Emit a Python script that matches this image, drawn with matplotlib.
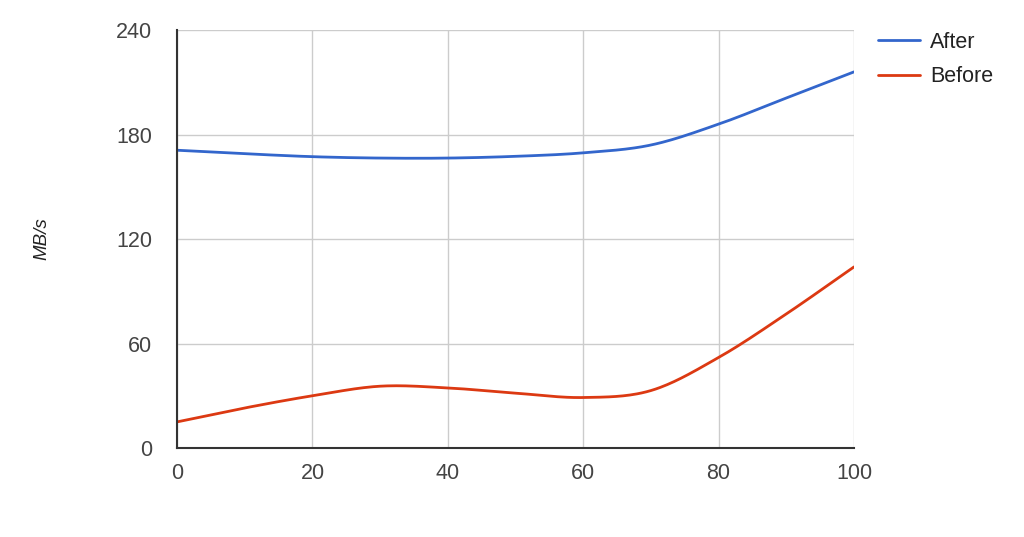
import numpy as np
import matplotlib.pyplot as plt

x_vals = [0, 10, 20, 30, 40, 50, 60, 70, 80, 90, 100]
after = [171, 169, 167.3, 166.5, 166.5, 167.5, 169.5, 174, 186, 201, 216]
before = [15, 23, 30, 35.5, 34.5, 31.5, 29, 33, 52, 77, 104]
x_ticks = [0, 20, 40, 60, 80, 100]
y_ticks = [0, 60, 120, 180, 240]


def smooth(xs, ys, n=30):
    # catmull-rom curve through the points, like curveType 'function'
    xs = np.asarray(xs, float)
    ys = np.asarray(ys, float)
    px = np.concatenate([[2 * xs[0] - xs[1]], xs, [2 * xs[-1] - xs[-2]]])
    py = np.concatenate([[2 * ys[0] - ys[1]], ys, [2 * ys[-1] - ys[-2]]])
    t = np.linspace(0, 1, n)
    ox, oy = [], []
    for i in range(1, len(px) - 2):
        for p, out in ((px, ox), (py, oy)):
            p0, p1, p2, p3 = p[i - 1], p[i], p[i + 1], p[i + 2]
            out.extend(0.5 * (2 * p1 + (-p0 + p2) * t
                              + (2 * p0 - 5 * p1 + 4 * p2 - p3) * t ** 2
                              + (-p0 + 3 * p1 - 3 * p2 + p3) * t ** 3))
    return np.array(ox), np.array(oy)


plt.rcParams['font.family'] = ['Liberation Sans', 'DejaVu Sans']

fig = plt.figure(figsize=(10.24, 5.37), dpi=100)
ax = fig.add_axes([0.1729, 0.1657, 0.8340 - 0.1729, 0.944 - 0.1657])

sx, sy = smooth(x_vals, after)
ax.plot(sx, sy, color='#3366cc', lw=2, label='After', solid_capstyle='round')
sx, sy = smooth(x_vals, before)
ax.plot(sx, sy, color='#dc3912', lw=2, label='Before', solid_capstyle='round')

ax.set_xlim(0, 100)
ax.set_ylim(0, 240)
ax.set_xticks(x_ticks)
ax.set_yticks(y_ticks)
ax.grid(True, color='#cccccc', lw=1)
ax.set_axisbelow(True)
for s in ['top', 'right']:
    ax.spines[s].set_visible(False)
for s in ['left', 'bottom']:
    ax.spines[s].set_color('#333333')
    ax.spines[s].set_linewidth(1.5)
ax.tick_params(length=0, labelsize=15.5, colors='#444444')
ax.tick_params(axis='y', pad=18)
ax.tick_params(axis='x', pad=11)
ax.set_ylabel('MB/s', fontsize=13.5, style='italic', color='#222222')
ax.yaxis.set_label_coords(-0.187, 0.5)

fig.legend(loc='upper left', bbox_to_anchor=(878 / 1024, 1 - 32 / 537),
           frameon=False, fontsize=15.5, handlelength=1.95,
           handletextpad=0.47, labelspacing=0.62, borderpad=0,
           borderaxespad=0, labelcolor='#222222')

fig.savefig('out.png', dpi=100)
